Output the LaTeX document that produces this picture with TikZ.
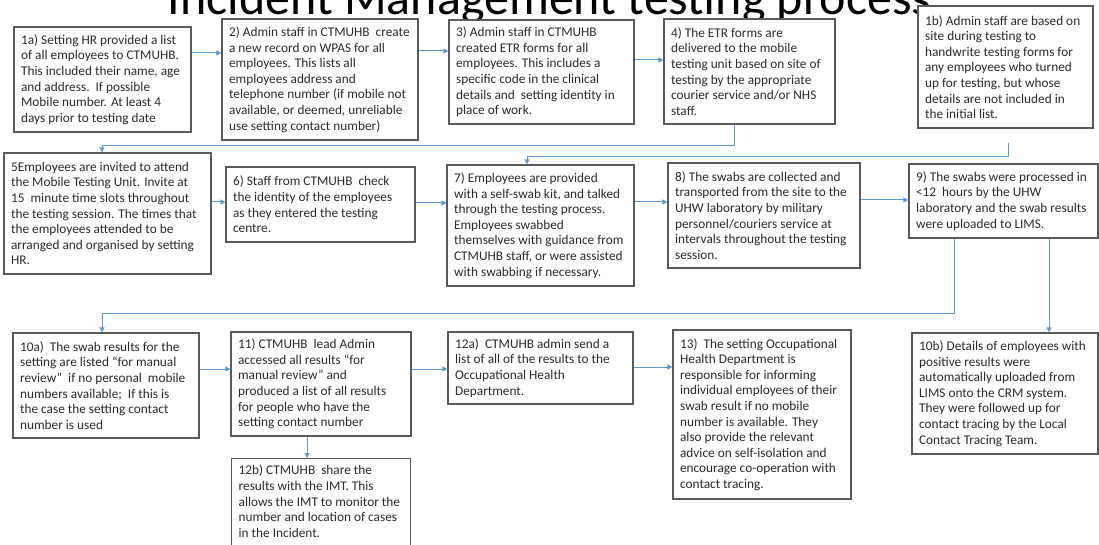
\documentclass[tikz,border=0pt]{standalone}
\usepackage{fontspec}
\setmainfont{Carlito}
\usetikzlibrary{arrows.meta}
\definecolor{boxline}{HTML}{5A5A5A}
\definecolor{arrblue}{HTML}{5B9BD5}
\definecolor{txtcol}{HTML}{2B2B2B}
\tikzset{
  pbox/.style={draw=boxline, line width=1.2pt, rectangle, inner sep=0pt, fill=white},
  ptxt/.style={inner sep=0pt, align=left, text=txtcol, font=\fontsize{13.3}{15.6}\selectfont},
  parr/.style={draw=arrblue, line width=1pt, -{Triangle[length=5pt,width=5pt]}},
}
\newcommand\mybox[6]{%
  \node[pbox, minimum width={(#4-#2)*1pt}, minimum height={(#5-#3)*1pt}] (#1) at ({(#2+#4)/2},{(#3+#5)/2}) {};
  \node[ptxt, anchor=west] (#1t) at ([xshift=7.5pt]#1.west) {#6};}
\begin{document}
\begin{tikzpicture}[x=1pt,y=-1pt]
\useasboundingbox (0,0) rectangle (1099,545);
\clip (0,0) rectangle (1099,545);
\fill[white] (0,0) rectangle (1099,545);
\node[anchor=base, inner sep=0pt, font=\fontsize{50}{60}\selectfont] (title) at (549.5,15) {Incident Management testing process};
% top row
\mybox{n1a}{14}{27}{191}{132}{1a) Setting HR provided a list\\of all employees to CTMUHB.\\This included their name, age\\and address.\ \ If possible\\Mobile number. At least 4\\days prior to testing date}
\mybox{n2}{222}{19}{418}{140}{2) Admin staff in CTMUHB\ \ create\\a new record on WPAS for all\\employees. This lists all\\employees address and\\telephone number (if mobile not\\available, or deemed, unreliable\\use setting contact number)}
\mybox{n3}{449}{20}{634}{124}{3) Admin staff in CTMUHB\\created ETR forms for all\\employees. This includes a\\specific code in the clinical\\details and\ \ setting identity in\\place of work.}
\mybox{n4}{664}{19}{835}{124}{4) The ETR forms are\\delivered to the mobile\\testing unit based on site of\\testing by the appropriate\\courier service and/or NHS\\staff.}
\mybox{n1b}{918}{6}{1093}{128}{1b) Admin staff are based on\\site during testing to\\handwrite testing forms for\\any employees who turned\\up for testing, but whose\\details are not included in\\the initial list.}
% middle row
\mybox{n5}{4}{153}{211}{274}{5Employees are invited to attend\\the Mobile Testing Unit. Invite at\\15\ \ minute time slots throughout\\the testing session. The times that\\the employees attended to be\\arranged and organised by setting\\HR.}
\mybox{n6}{226}{167}{415}{242}{6) Staff from CTMUHB\ \ check\\the identity of the employees\\as they entered the testing\\centre.}
\mybox{n7}{447}{165}{634}{286}{7) Employees are provided\\with a self-swab kit, and talked\\through the testing process.\\Employees swabbed\\themselves with guidance from\\CTMUHB staff, or were assisted\\with swabbing if necessary.}
\mybox{n8}{668}{163}{860}{268}{8) The swabs are collected and\\transported from the site to the\\UHW laboratory by military\\personnel/couriers service at\\intervals throughout the testing\\session.}
\mybox{n9}{909}{164}{1098}{238}{9) The swabs were processed in\\<12\ \ hours by the UHW\\laboratory and the swab results\\were uploaded to LIMS.}
% bottom row
\mybox{n10a}{13}{333}{199}{438}{10a)\ \ The swab results for the\\setting are listed “for manual\\review”\ \ if no personal\ \ mobile\\numbers available;\ \ If this is\\the case the setting contact\\number is used}
\mybox{n11}{231}{332}{411}{436}{11) CTMUHB\ \ lead Admin\\accessed all results “for\\manual review” and\\produced a list of all results\\for people who have the\\setting contact number}
\node[pbox, minimum width=179pt, minimum height=100pt, anchor=north west] (n12b) at (231,458) {};
\node[ptxt, anchor=north west] (n12bt) at ([xshift=7.5pt,yshift=-7pt]n12b.north west) {12b) CTMUHB\ \ share the\\results with the IMT. This\\allows the IMT to monitor the\\number and location of cases\\in the Incident.};
\mybox{n12a}{448}{332}{633}{404}{12a)\ \ CTMUHB admin send a\\list of all of the results to the\\Occupational Health\\Department.}
\mybox{n13}{673}{330}{851}{499}{13)\ \ The setting Occupational\\Health Department is\\responsible for informing\\individual employees of their\\swab result if no mobile\\number is available. They\\also provide the relevant\\advice on self-isolation and\\encourage co-operation with\\contact tracing.}
\mybox{n10b}{912}{333}{1098}{454}{10b) Details of employees with\\positive results were\\automatically uploaded from\\LIMS onto the CRM system.\\They were followed up for\\contact tracing by the Local\\Contact Tracing Team.}
% connectors
\draw[parr] (n1a.east |- 0,53) -- (n2.west |- 0,53);
\draw[parr] (n2.east |- 0,51) -- (n3.west |- 0,51);
\draw[parr] (n3.east |- 0,60) -- (n4.west |- 0,60);
\draw[parr] (n4.south -| 734,0) -- ++(0,21) -| (n5.north -| 102,0);
\coordinate (c1b) at ([yshift=-14pt]n1b.south -| 1008,0);
\draw[parr] (c1b) -- ++(0,14) -| (n7.north -| 527,0);
\draw[parr] (n5.east |- 0,202) -- (n6.west |- 0,202);
\draw[parr] (n6.east |- 0,203) -- (n7.west |- 0,203);
\draw[parr] (n7.east |- 0,202) -- (n8.west |- 0,202);
\draw[parr] (n8.east |- 0,200) -- (n9.west |- 0,200);
\draw[parr] (n9.south -| 954,0) -- ++(0,75) -| (n10a.north -| 102,0);
\draw[parr] (n9.south -| 1049,0) -- (n10b.north -| 1049,0);
\draw[parr] (n10a.east |- 0,369) -- (n11.west |- 0,369);
\draw[parr] (n11.east |- 0,369) -- (n12a.west |- 0,369);
\draw[parr] (n12a.east |- 0,367) -- (n13.west |- 0,367);
\draw[parr] (n11.south -| 307,0) -- (n12b.north -| 307,0);
\end{tikzpicture}
\end{document}
